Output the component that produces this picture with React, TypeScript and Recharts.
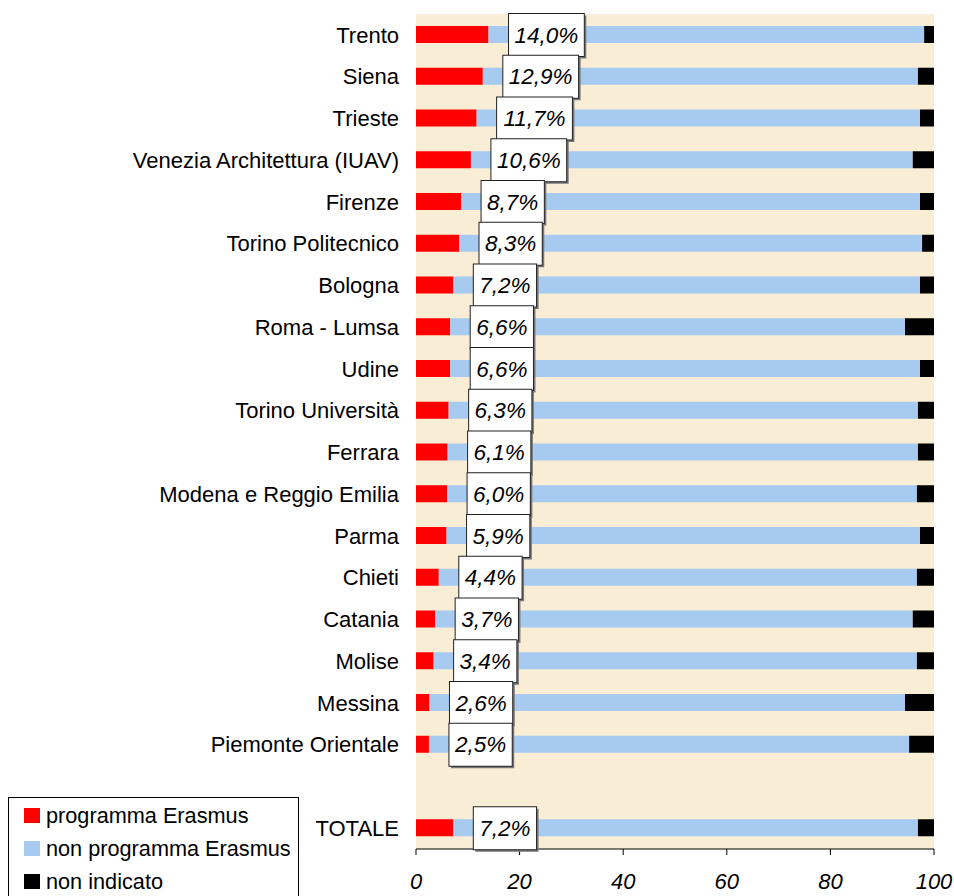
import React from 'react';
import { BarChart, Bar, XAxis, YAxis, CartesianGrid, LabelList, Legend } from 'recharts';

const categories = [
  'Trento', 'Siena', 'Trieste', 'Venezia Architettura (IUAV)', 'Firenze', 'Torino Politecnico',
  'Bologna', 'Roma - Lumsa', 'Udine', 'Torino Università', 'Ferrara', 'Modena e Reggio Emilia',
  'Parma', 'Chieti', 'Catania', 'Molise', 'Messina', 'Piemonte Orientale', ' ', 'TOTALE',
];
const erasmus = [14.0, 12.9, 11.7, 10.6, 8.7, 8.3, 7.2, 6.6, 6.6, 6.3, 6.1, 6.0, 5.9, 4.4, 3.7, 3.4, 2.6, 2.5, null, 7.2];
const nonErasmus = [84.1, 84.0, 85.6, 85.3, 88.6, 89.4, 90.1, 87.8, 90.7, 90.6, 90.8, 90.7, 91.4, 92.3, 92.2, 93.3, 91.8, 92.7, null, 89.7];
const nonIndicato = [1.9, 3.1, 2.7, 4.1, 2.7, 2.3, 2.7, 5.6, 2.7, 3.1, 3.1, 3.3, 2.7, 3.3, 4.1, 3.3, 5.6, 4.8, null, 3.1];
const xTicks = [0, 20, 40, 60, 80, 100];

const seriesNames = ['programma Erasmus', 'non programma Erasmus', 'non indicato'];
const seriesColors = ['#FF0000', '#A6CAF0', '#000000'];

const data = categories.map((name, i) => ({
  name,
  erasmus: erasmus[i],
  nonErasmus: nonErasmus[i],
  nonIndicato: nonIndicato[i],
}));

const FONT = '"Liberation Sans", Arial, sans-serif';

const charW: Record<string, number> = { ',': 0.278, '%': 0.889 };
const textWidth = (s: string, size: number) =>
  s.split('').reduce((acc, c) => acc + (charW[c] ?? 0.556), 0) * size;

const ValueBox = (props: any) => {
  const { value } = props;
  if (value === null || value === undefined || value === '') return null;
  const vb = props.viewBox ?? props;
  const x = Number(vb.x ?? props.x);
  const y = Number(vb.y ?? props.y);
  const h = Number(vb.height ?? props.height);
  const label = Number(value).toFixed(1).replace('.', ',') + '%';
  const fs = 22.5;
  const w = textWidth(label, fs) + 12;
  const left = x + 20;
  const cy = y + h / 2;
  const top = cy - 21;
  const bh = 43;
  return (
    <g>
      <rect x={left + 2} y={top + 2} width={w} height={bh} fill="#777" />
      <rect x={left} y={top} width={w} height={bh} fill="#fff" stroke="#222" strokeWidth={1} />
      <text
        x={left + w / 2}
        y={cy + 8}
        textAnchor="middle"
        fontFamily={FONT}
        fontSize={fs}
        fontStyle="italic"
        fill="#000"
      >
        {label}
      </text>
    </g>
  );
};

const LegendBox = () => (
  <div
    style={{
      width: 291,
      height: 99,
      boxSizing: 'border-box',
      border: '1px solid #000',
      borderBottom: 'none',
      background: '#fff',
      fontFamily: FONT,
      fontSize: 21.7,
      color: '#000',
      paddingTop: 1,
    }}
  >
    {seriesNames.map((n, i) => (
      <div key={n} style={{ display: 'flex', alignItems: 'center', height: 33 }}>
        <span style={{ display: 'inline-block', width: 16, height: 15, marginLeft: 15, background: seriesColors[i] }} />
        <span style={{ marginLeft: 6, whiteSpace: 'nowrap' }}>{n}</span>
      </div>
    ))}
  </div>
);

export default function App() {
  return (
    <div style={{ position: 'absolute', left: 0, top: 0, width: 954, height: 896, background: '#fff' }}>
      <BarChart
        width={954}
        height={896}
        data={data}
        layout="vertical"
        margin={{ top: 14, right: 20, bottom: 0, left: 0 }}
        barCategoryGap={0}
      >
        <CartesianGrid horizontal={false} vertical={false} fill="#FAEDD5" stroke="none" />
        <XAxis
          type="number"
          domain={[0, 100]}
          ticks={xTicks}
          height={47}
          axisLine={{ stroke: '#000' }}
          tickLine={{ stroke: '#000' }}
          tickSize={6}
          tickMargin={18}
          tick={{ fontFamily: FONT, fontSize: 22, fontStyle: 'italic', fill: '#000' }}
          interval={0}
        />
        <YAxis
          type="category"
          dataKey="name"
          width={416}
          axisLine={false}
          tickLine={false}
          tickSize={0}
          tickMargin={17}
          interval={0}
          tick={{ fontFamily: FONT, fontSize: 22, fill: '#000' }}
        />
        <Legend
          align="center"
          verticalAlign="middle"
          layout="horizontal"
          content={<LegendBox />}
          wrapperStyle={{ position: 'absolute', left: 8, top: 797, width: 291, height: 99 }}
        />
        <Bar dataKey="erasmus" name={seriesNames[0]} stackId="s" fill={seriesColors[0]} barSize={17} isAnimationActive={false} />
        <Bar dataKey="nonErasmus" name={seriesNames[1]} stackId="s" fill={seriesColors[1]} barSize={17} isAnimationActive={false}>
          <LabelList dataKey="erasmus" content={<ValueBox />} />
        </Bar>
        <Bar dataKey="nonIndicato" name={seriesNames[2]} stackId="s" fill={seriesColors[2]} barSize={17} isAnimationActive={false} />
      </BarChart>
    </div>
  );
}
